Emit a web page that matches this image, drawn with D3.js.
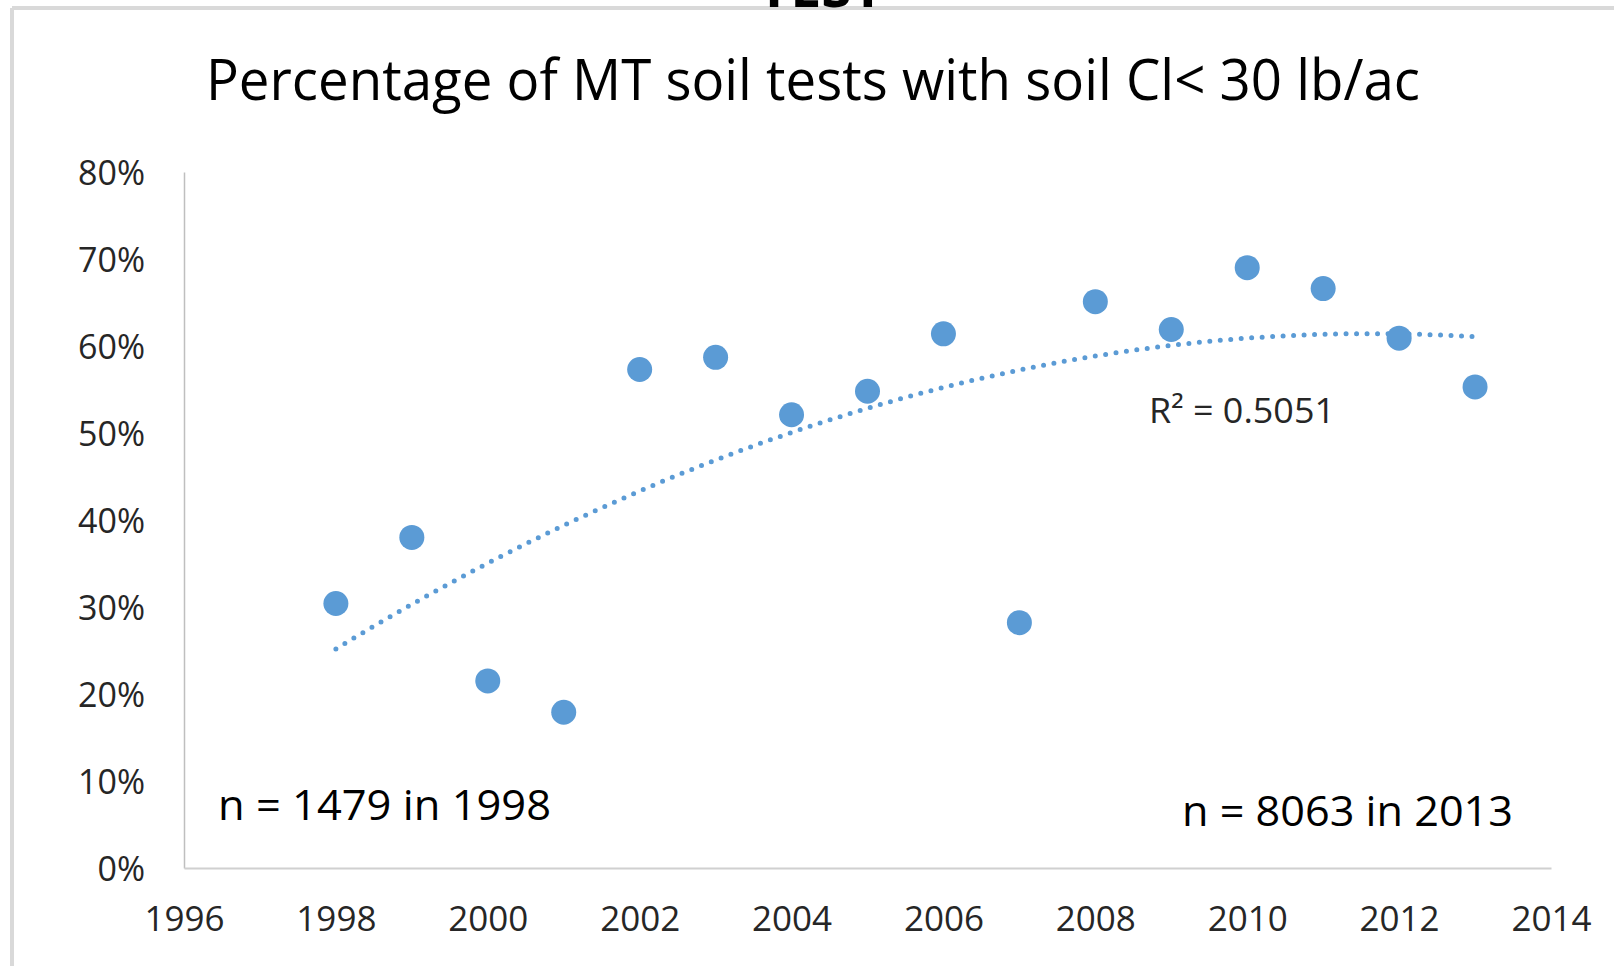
<!DOCTYPE html>
<html>
<head>
<meta charset="utf-8">
<script src="https://cdn.jsdelivr.net/npm/d3@7"></script>
<style>
  html, body { margin: 0; padding: 0; background: #fff; }
  svg { display: block; }
</style>
</head>
<body>
<svg id="chart" width="1614" height="966"></svg>
<script>
// data
const years = [1998, 1999, 2000, 2001, 2002, 2003, 2004, 2005, 2006, 2007, 2008, 2009, 2010, 2011, 2012, 2013];
const pctLow = [0.304, 0.380, 0.215, 0.179, 0.573, 0.587, 0.521, 0.548, 0.614, 0.282, 0.651, 0.619, 0.690, 0.666, 0.609, 0.553];
const xTicks = [1996, 1998, 2000, 2002, 2004, 2006, 2008, 2010, 2012, 2014];
const yTicks = [0, 0.1, 0.2, 0.3, 0.4, 0.5, 0.6, 0.7, 0.8];

const blue = "#5B9BD5";
const font = "'Open Sans', 'Noto Sans', sans-serif";

const svg = d3.select("#chart");

const x = d3.scaleLinear().domain([1996, 2014]).range([184, 1551]);
const y = d3.scaleLinear().domain([0, 0.8]).range([868, 172]);

// outer frame of the chart box (only top and left edges are in view)
svg.append("line").attr("x1", 12).attr("x2", 1614).attr("y1", 8).attr("y2", 8)
  .attr("stroke", "#d9d9d9").attr("stroke-width", 4);
svg.append("line").attr("x1", 12).attr("x2", 12).attr("y1", 8).attr("y2", 966)
  .attr("stroke", "#d9d9d9").attr("stroke-width", 4);

// slide heading, mostly cut off at the top
svg.append("text")
  .attr("x", 821).attr("y", 7)
  .attr("text-anchor", "middle")
  .attr("font-family", font).attr("font-weight", "bold").attr("font-size", 54)
  .attr("textLength", 126).attr("lengthAdjust", "spacingAndGlyphs")
  .attr("fill", "#000")
  .text("TEST");

// title
svg.append("text")
  .attr("x", 813).attr("y", 100)
  .attr("text-anchor", "middle")
  .attr("font-family", font).attr("font-size", 57)
  .attr("textLength", 1214).attr("lengthAdjust", "spacingAndGlyphs")
  .attr("fill", "#000")
  .text("Percentage of MT soil tests with soil Cl< 30 lb/ac");

// axes
const yAxis = svg.append("g")
  .attr("transform", `translate(${x(1996)},0)`)
  .call(d3.axisLeft(y).tickValues(yTicks).tickFormat(d3.format(".0%")).tickSize(0).tickPadding(39));
yAxis.select(".domain").attr("stroke", "#bfbfbf").attr("stroke-width", 1.5);

const xAxis = svg.append("g")
  .attr("transform", `translate(0,${y(0)})`)
  .call(d3.axisBottom(x).tickValues(xTicks).tickFormat(d3.format("d")).tickSize(0).tickPadding(38));
xAxis.select(".domain").attr("stroke", "#d0d0d0").attr("stroke-width", 2);

svg.selectAll(".tick text")
  .attr("font-family", font).attr("font-size", 34).attr("fill", "#262626");
yAxis.selectAll(".tick text").attr("dy", "0.36em");
xAxis.selectAll(".tick text").attr("font-size", 35).attr("dy", "0.71em");

// quadratic least-squares trendline through the points
function quadFit(xs, ys) {
  const n = xs.length;
  const x0 = d3.mean(xs);
  const u = xs.map(v => v - x0);
  const s = k => d3.sum(u, v => Math.pow(v, k));
  const t = k => d3.sum(u, (v, i) => Math.pow(v, k) * ys[i]);
  const A = [[n, s(1), s(2)], [s(1), s(2), s(3)], [s(2), s(3), s(4)]];
  const b = [t(0), t(1), t(2)];
  // gaussian elimination
  for (let i = 0; i < 3; i++) {
    for (let j = i + 1; j < 3; j++) {
      const f = A[j][i] / A[i][i];
      for (let k = i; k < 3; k++) A[j][k] -= f * A[i][k];
      b[j] -= f * b[i];
    }
  }
  const c = [0, 0, 0];
  for (let i = 2; i >= 0; i--) {
    let acc = b[i];
    for (let k = i + 1; k < 3; k++) acc -= A[i][k] * c[k];
    c[i] = acc / A[i][i];
  }
  return v => c[0] + c[1] * (v - x0) + c[2] * (v - x0) * (v - x0);
}
const trend = quadFit(years, pctLow);
const trendX = d3.range(1998, 2013.001, 0.1);

svg.append("path")
  .datum(trendX)
  .attr("fill", "none")
  .attr("stroke", blue)
  .attr("stroke-width", 5)
  .attr("stroke-linecap", "round")
  .attr("stroke-dasharray", "0 10.5")
  .attr("d", d3.line().x(d => x(d)).y(d => y(trend(d))));

// points
svg.append("g")
  .selectAll("circle")
  .data(years)
  .join("circle")
  .attr("cx", d => x(d))
  .attr("cy", (d, i) => y(pctLow[i]))
  .attr("r", 12.5)
  .attr("fill", blue);

// annotations
svg.append("text")
  .attr("x", 1149).attr("y", 423)
  .attr("font-family", font).attr("font-size", 35)
  .attr("textLength", 186).attr("lengthAdjust", "spacingAndGlyphs")
  .attr("fill", "#262626")
  .text("R² = 0.5051");

svg.append("text")
  .attr("x", 218).attr("y", 820)
  .attr("font-family", font).attr("font-size", 42)
  .attr("textLength", 333).attr("lengthAdjust", "spacingAndGlyphs")
  .attr("fill", "#000")
  .text("n = 1479 in 1998");

svg.append("text")
  .attr("x", 1182).attr("y", 826)
  .attr("font-family", font).attr("font-size", 42)
  .attr("textLength", 331).attr("lengthAdjust", "spacingAndGlyphs")
  .attr("fill", "#000")
  .text("n = 8063 in 2013");
</script>
</body>
</html>
